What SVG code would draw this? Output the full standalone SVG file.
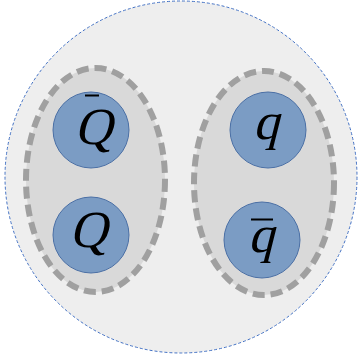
<svg xmlns="http://www.w3.org/2000/svg" width="358" height="359" viewBox="0 0 358 359">
<style>
.outer{fill:#eeeeee;stroke:#4472c4;stroke-width:1;stroke-dasharray:3 2}
.group{fill:#d9d9d9;stroke:#a0a0a0;stroke-width:6;stroke-dasharray:12 6}
.node{fill:#7b9cc4;stroke:#4a6fa5;stroke-width:1}
.lbl{font-family:"Liberation Serif","Times New Roman",serif;font-style:normal;font-size:52px;fill:#000;text-anchor:middle}
.bar{stroke:#000;stroke-width:2}
</style>
<g id="hadron"><circle class="outer" cx="181" cy="177" r="176"/></g>
<g id="diquark-heavy"><ellipse class="group" cx="95.5" cy="180" rx="69.5" ry="112"/></g>
<g id="diquark-light"><ellipse class="group" cx="264" cy="183" rx="70" ry="112"/></g>
<g id="Qbar"><circle class="node" cx="91" cy="130" r="38"/><text class="lbl" transform="translate(93,144) skewX(-14)">Q</text><line class="bar" x1="85" y1="95.5" x2="99" y2="95.5"/></g>
<g id="Q"><circle class="node" cx="91" cy="235" r="38"/><text class="lbl" transform="translate(88,247) skewX(-14)">Q</text></g>
<g id="q"><circle class="node" cx="268" cy="130" r="38"/><text class="lbl" transform="translate(266,139) skewX(-14)">q</text></g>
<g id="qbar"><circle class="node" cx="262" cy="240" r="38"/><text class="lbl" transform="translate(261,252) skewX(-14)">q</text><line class="bar" x1="251" y1="219.5" x2="273" y2="219.5"/></g>
<g id="connectors"></g>
</svg>
